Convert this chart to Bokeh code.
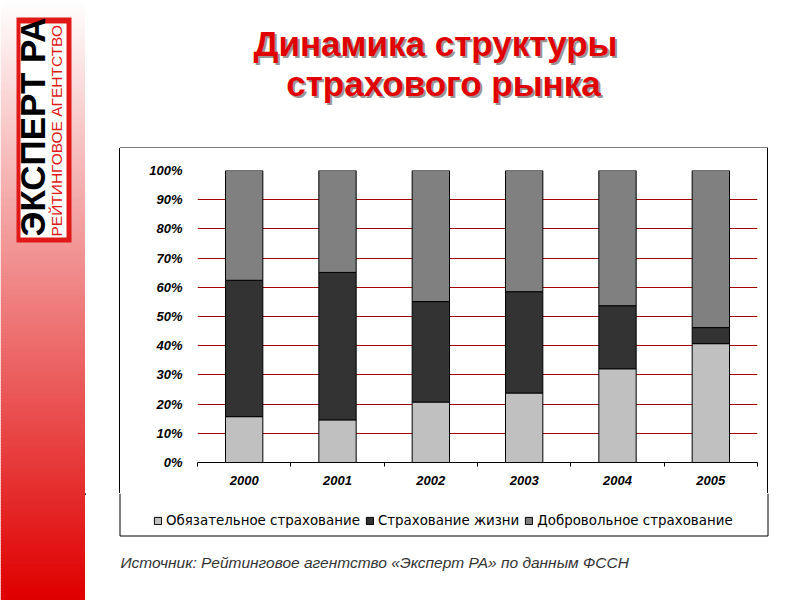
import math
from bokeh.plotting import figure
from bokeh.layouts import row, column
from bokeh.models import (ColumnDataSource, Range1d, LinearAxis, Spacer,
                          FixedTicker, PrintfTickFormatter, Label, Legend, LegendItem)
from bokeh.embed import file_html
from bokeh.resources import INLINE

# ---------------- data ----------------
years = ["2000", "2001", "2002", "2003", "2004", "2005"]
mandatory = [15.7, 14.6, 20.7, 23.8, 32.1, 40.7]
life = [46.7, 50.5, 34.4, 34.7, 21.6, 5.5]
voluntary = [37.6, 34.9, 44.9, 41.5, 46.3, 53.8]
series_names = ["Обязательное страхование", "Страхование жизни", "Добровольное страхование"]
y_ticks = [0, 10, 20, 30, 40, 50, 60, 70, 80, 90, 100]
title_lines = ["Динамика структуры", "страхового рынка"]
source_note = "Источник: Рейтинговое агентство «Эксперт РА» по данным ФССН"
logo_main = "ЭКСПЕРТ РА"
logo_sub = "РЕЙТИНГОВОЕ АГЕНТСТВО"

colors = ["#c0c0c0", "#333333", "#808080"]


def blank(w, h, x0, x1, y0, y1):
    f = figure(width=w, height=h, x_range=Range1d(x0, x1), y_range=Range1d(y1, y0),
               x_axis_location=None, y_axis_location=None, toolbar_location=None,
               output_backend="svg", min_border=0)
    f.outline_line_color = None
    f.background_fill_color = "white"
    f.border_fill_color = "white"
    for g in f.grid:
        g.visible = False
    return f


# ---------------- left stripe with logo ----------------
left = blank(85, 600, 0, 85, 0, 600)
step = 3
tops = list(range(0, 600, step))
cols = []
for y0 in tops:
    t = (y0 + step / 2) / 598.0
    cols.append("#%02x%02x%02x" % (int(255 - 31 * t), int(255 * (1 - t)), int(255 * (1 - t))))
left.quad(left=0, right=85, top=tops, bottom=[y + step + 0.5 for y in tops],
          fill_color=cols, line_color=None)
left.quad(left=16, right=71, top=17, bottom=242, fill_color="#e01818", line_color=None)
left.quad(left=20, right=66, top=23, bottom=237, fill_color="white", line_color=None)
left.add_layout(Label(x=32, y=236, text=logo_main, angle=math.pi / 2,
                      text_align="left", text_baseline="middle",
                      text_font="Liberation Sans", text_font_style="bold",
                      text_font_size="35px", text_color="black"))
left.add_layout(Label(x=56, y=236, text=logo_sub, angle=math.pi / 2,
                      text_align="left", text_baseline="middle",
                      text_font="Liberation Sans", text_font_size="15.5px",
                      text_color="#e01818"))

# ---------------- title (with top border of the chart box) ----------------
top_fig = blank(715, 148, 85, 800, 0, 148)
for (txt, cx, base) in [(title_lines[0], 435, 43), (title_lines[1], 443, 83)]:
    top_fig.add_layout(Label(x=cx + 2, y=base + 2, text=txt, text_align="center",
                             text_baseline="alphabetic", text_font="Liberation Sans",
                             text_font_style="bold", text_font_size="35px",
                             text_color="#303030", text_alpha=0.5))
    top_fig.add_layout(Label(x=cx, y=base, text=txt, text_align="center",
                             text_baseline="alphabetic", text_font="Liberation Sans",
                             text_font_style="bold", text_font_size="35px",
                             text_color="#e00000"))
top_fig.line(x=[119.5, 767.5], y=[147.5, 147.5], line_color="black", line_width=1)

# ---------------- chart ----------------
n = len(years)
centers = [i + 0.5 for i in range(n)]
CW, CH = 647, 345
p = figure(width=CW, height=CH, x_range=Range1d(0, n), y_range=Range1d(0, 100),
           x_axis_location=None, y_axis_location="left",
           toolbar_location=None, output_backend="svg",
           min_border_left=77, min_border_right=10, min_border_top=22, min_border_bottom=31)
p.outline_line_color = None
p.background_fill_color = "white"
p.border_fill_color = "white"
for g in p.xgrid:
    g.visible = False

yax = p.yaxis[0]
yax.ticker = FixedTicker(ticks=y_ticks)
yax.formatter = PrintfTickFormatter(format="%d%%")
yax.axis_line_color = None
yax.major_tick_line_color = None
yax.major_tick_out = 0
yax.major_tick_in = 0
yax.minor_tick_line_color = None
yax.major_label_standoff = 15
yax.major_label_text_font = "Liberation Sans"
yax.major_label_text_font_style = "bold italic"
yax.major_label_text_font_size = "13px"
yax.major_label_text_color = "black"

p.ygrid.ticker = FixedTicker(ticks=y_ticks)
p.ygrid.grid_line_color = "#a00000"
p.ygrid.grid_line_width = 1

tick_axis = LinearAxis(ticker=FixedTicker(ticks=list(range(n + 1))),
                       major_tick_in=0, major_tick_out=4, minor_tick_line_color=None,
                       axis_line_color="black", major_tick_line_color="black",
                       major_label_text_font_size="1px", major_label_text_alpha=0,
                       major_label_standoff=0)
p.add_layout(tick_axis, "below")
cat_axis = LinearAxis(ticker=FixedTicker(ticks=centers),
                      major_label_overrides={c: y for c, y in zip(centers, years)},
                      axis_line_color=None, major_tick_line_color=None,
                      major_tick_out=0, major_tick_in=0,
                      minor_tick_line_color=None, major_label_standoff=9,
                      major_label_text_font="Liberation Sans",
                      major_label_text_font_style="bold italic",
                      major_label_text_font_size="13px",
                      major_label_text_color="black")
p.add_layout(cat_axis, "below")

source = ColumnDataSource(dict(x=centers, years=years, mandatory=mandatory, life=life,
                               voluntary=voluntary))
rs = p.vbar_stack(["mandatory", "life", "voluntary"], x="x", width=0.4, color=colors,
                  line_color="black", line_width=1, source=source)

# ---------------- side spacers carrying the box's vertical borders ----------------
chart_row = row(Spacer(width=34, height=CH),
                Spacer(width=1, height=CH, styles={"background-color": "black"}),
                p,
                Spacer(width=1, height=CH, styles={"background-color": "black"}),
                Spacer(width=32, height=CH))

# ---------------- legend strip + source note (with rest of the chart box) ----------------
BY0 = 148 + CH
bottom_fig = blank(715, 600 - BY0, 85, 800, BY0, 600)
bottom_fig.line(x=[119.5, 119.5], y=[BY0, 535.5], line_color="black", line_width=1)
bottom_fig.line(x=[767.5, 767.5], y=[BY0, 535.5], line_color="black", line_width=1)
bottom_fig.line(x=[119.5, 767.5], y=[535.5, 535.5], line_color="black", line_width=1)
# legend proxies (kept outside the visible range)
leg_renderers = [bottom_fig.vbar(x=[-1000], top=[BY0], bottom=[BY0 + 1], width=1,
                                 fill_color=c, line_color="black") for c in colors]
legend = Legend(items=[LegendItem(label=s, renderers=[r])
                       for s, r in zip(series_names, leg_renderers)],
                orientation="horizontal", location=(68, 72),
                glyph_width=9, glyph_height=9, label_standoff=4, spacing=5,
                padding=0, margin=0, background_fill_alpha=0, border_line_alpha=0,
                label_text_font="DejaVu Sans", label_text_font_size="13.4px",
                label_text_color="black", label_height=14)
bottom_fig.add_layout(legend, "center")
bottom_fig.add_layout(Label(x=120, y=562, text=source_note, text_align="left",
                            text_baseline="middle", text_font="Liberation Sans",
                            text_font_style="italic", text_font_size="15.5px",
                            text_color="#333333"))

layout = row(left, column(top_fig, chart_row, bottom_fig))
open("out.html", "w").write(file_html(layout, INLINE))
